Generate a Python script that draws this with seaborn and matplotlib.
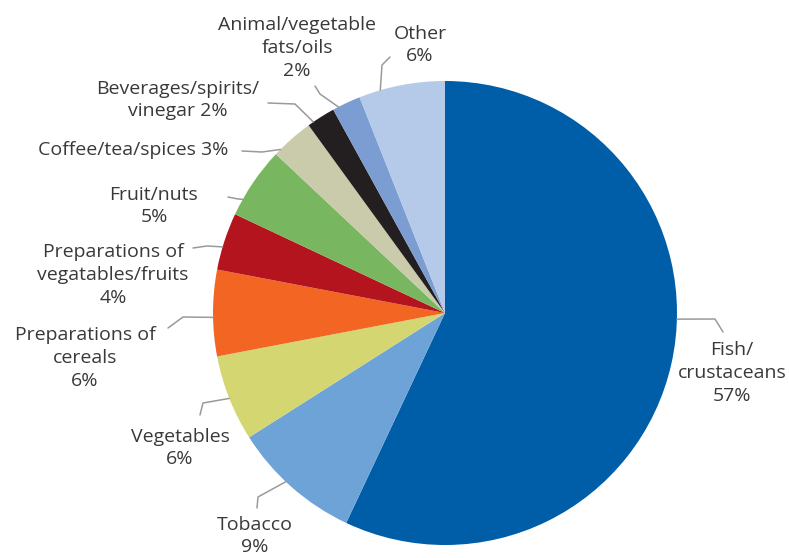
import matplotlib
matplotlib.use("Agg")
import matplotlib.pyplot as plt
import seaborn as sns
import numpy as np

# Share of exports by product group (percent), clockwise from 12 o'clock
categories = [
    "Fish/\ncrustaceans",
    "Tobacco",
    "Vegetables",
    "Preparations of\ncereals",
    "Preparations of\nvegatables/fruits",
    "Fruit/nuts",
    "Coffee/tea/spices",
    "Beverages/spirits/\nvinegar",
    "Animal/vegetable\nfats/oils",
    "Other",
]
shares = [57, 9, 6, 6, 4, 5, 3, 2, 2, 6]
# how the percentage joins the category name in each label
joiners = ["\n", "\n", "\n", "\n", "\n", "\n", " ", " ", "\n", "\n"]

colors = [
    "#005EA8", "#6EA3D7", "#D4D771", "#F26522", "#B3141E",
    "#79B660", "#C9CBAA", "#231F20", "#7B9DD2", "#B4CAE8",
]

W, H = 789, 558
center = (445, H - 313)
radius = 232

# label layout: text centre, leader position within wedge (0..1 clockwise),
# leader elbow and leader end, all in pixel units measured from the top-left
label_xy = [(732, 373), (255, 536), (180, 448), (85, 358), (113, 275),
            (154, 206), (133, 150), (178, 100), (297, 48), (420, 45)]
leader_frac = [0.446, 0.56, 0.5, 0.45, 0.4, 0.23, 0.15, 0.2, 0.2, 0.25]
leader_elbow = [(715, 319), (258, 497), (203, 403), (183, 317), (207, 246),
                (238, 199), (262, 152), (295, 104), (320, 94), (382, 65)]
leader_end = [(723, 332), (257, 508), (200, 415), (168, 328), (193, 248),
              (228, 197), (242, 151), (268, 103), (315, 86), (390, 57)]

sns.set_theme(style="white")
plt.rcParams["font.family"] = ["Open Sans", "DejaVu Sans"]

fig = plt.figure(figsize=(W / 100, H / 100), dpi=100)
ax = fig.add_axes([0, 0, 1, 1])

wedges, _ = ax.pie(
    shares, colors=colors, startangle=90, counterclock=False,
    center=center, radius=radius, frame=True,
    wedgeprops=dict(linewidth=0),
)
ax.set_xlim(0, W)
ax.set_ylim(0, H)
ax.set_aspect("equal")
ax.axis("off")

text_color = "#3B3838"
line_color = "#9A9A9A"
for w, name, val, j, (tx, ty), fr, (ex, ey), (nx, ny) in zip(
        wedges, categories, shares, joiners, label_xy, leader_frac,
        leader_elbow, leader_end):
    # clockwise drawing: theta2 is the wedge start, theta1 its end
    ang = np.deg2rad(w.theta2 - fr * (w.theta2 - w.theta1))
    sx = center[0] + radius * np.cos(ang)
    sy = center[1] + radius * np.sin(ang)
    ax.plot([sx, ex, nx], [sy, H - ey, H - ny], color=line_color, lw=1.1,
            solid_joinstyle="round")
    ax.text(tx, H - ty, f"{name}{j}{val}%", ha="center", va="center",
            multialignment="center", fontsize=14, color=text_color,
            linespacing=1.33)

fig.savefig("out.png", dpi=100)
